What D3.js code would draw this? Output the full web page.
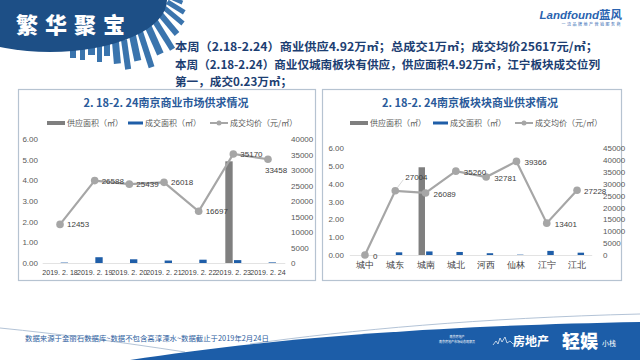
<!DOCTYPE html>
<html><head><meta charset="utf-8">
<script src="https://cdn.jsdelivr.net/npm/d3@7/dist/d3.min.js"></script>
<style>
html,body{margin:0;padding:0;background:#fff;}
svg{display:block;font-family:"Noto Sans CJK SC","Noto Sans",sans-serif;}
</style></head>
<body><svg id="c" width="640" height="360"></svg>
<script>
// ---- data ----
const dates = ["2019. 2. 18","2019. 2. 19","2019. 2. 20","2019. 2. 21","2019. 2. 22","2019. 2. 23","2019. 2. 24"];
const supplyByDay = [0,0,0,0,0,4.92,0];
const dealByDay = [0.02,0.28,0.18,0.12,0.16,0.14,0.03];
const priceByDay = [12453,26588,25439,26018,16697,35170,33458];
const districts = ["城中","城东","城南","城北","河西","仙林","江宁","江北"];
const supplyByDistrict = [0,0,4.92,0,0,0,0,0];
const dealByDistrict = [0,0.15,0.20,0.17,0.10,0.02,0.23,0.13];
const priceByDistrict = [0,27004,26089,35260,32781,39366,13401,27228];
const areaTicks = [0,1,2,3,4,5,6];
const priceTicksLeft = [0,5000,10000,15000,20000,25000,30000,35000,40000];
const priceTicksRight = [0,5000,10000,15000,20000,25000,30000,35000,40000,45000];
const seriesNames = ["供应面积（㎡）","成交面积（㎡）","成交均价（元/㎡）"];
const titleLeft = "2. 18-2. 24南京商业市场供求情况";
const titleRight = "2. 18-2. 24南京板块块商业供求情况";
const bodyLines = ["本周（2.18-2.24）商业供应4.92万㎡；总成交1万㎡；成交均价25617元/㎡；",
  "本周（2.18-2.24）商业仅城南板块有供应，供应面积4.92万㎡，江宁板块成交位列",
  "第一，成交0.23万㎡；"];

const svg = d3.select("#c");
const GRAY_BAR="#7f7f7f", BLUE="#1f5ea8", LINE="#a6a6a6", TXT="#595959";

// ---- header decoration ----
const hdr = svg.append("g");
const bld = [[70,48,6,10,0],[80,48,5,12,0],[88,46,7,9,0],[97,46,5,16,0],[104,44,6,12,0],[112,42,7,22,5],[121,40,6,30,8],
  [129,36,7,26,12],[137,32,6,38,18],[145,28,7,30,24],[152,22,6,34,32],[158,16,6,26,40],[163,10,5,24,50],[166,4,5,20,58],[167,-2,4,16,66]];
bld.forEach(b=>{
  hdr.append("rect").attr("x",0).attr("y",0).attr("width",b[2]).attr("height",b[3])
    .attr("fill","#3a74ad").attr("transform",`translate(${b[0]},${b[1]}) rotate(${-b[4]})`);
});
hdr.append("ellipse").attr("cx",50).attr("cy",0).attr("rx",117).attr("ry",52).attr("fill","#1d4f86");
hdr.append("text").attr("x",16).attr("y",33).attr("fill","#fff").attr("font-size",22).attr("font-weight",900)
  .attr("letter-spacing",7).text("繁华聚宝");
// logo
svg.append("text").attr("x",622).attr("y",19).attr("text-anchor","end").attr("font-size",11.5)
  .attr("font-weight",700).attr("font-style","italic").attr("fill","#2a63b0").attr("font-family","Liberation Sans, sans-serif")
  .text("Landfound").append("tspan").attr("font-style","normal").attr("font-family","Noto Sans CJK SC").text("蓝风");
svg.append("text").attr("x",622).attr("y",26).attr("text-anchor","end").attr("font-size",4).attr("fill","#2a63b0")
  .attr("letter-spacing",1.5).text("一流品牌地产营销服务商");

// body text
const bodyLen = [423,425,null];
bodyLines.forEach((t,i)=>{
  const tx = svg.append("text").attr("x",175).attr("y",51+i*17.5).attr("font-size",11.6).attr("font-weight",700)
    .attr("fill","#1c3e72").text(t);
  if(bodyLen[i]) tx.attr("textLength",bodyLen[i]).attr("lengthAdjust","spacingAndGlyphs");
});

// ---- panels ----
function panel(x,w){
  svg.append("rect").attr("x",x+0.5).attr("y",89.5).attr("width",w).attr("height",191)
    .attr("fill","#fff").attr("stroke","#b6c3d1").attr("stroke-width",1.2);
}
panel(18,297); panel(322,299);

function legend(g, xs, y){
  g.append("rect").attr("x",xs[0]).attr("y",y-2).attr("width",18).attr("height",4).attr("fill",GRAY_BAR);
  g.append("text").attr("x",xs[0]+20).attr("y",y+3).attr("font-size",8).attr("fill",TXT).text(seriesNames[0]);
  g.append("rect").attr("x",xs[1]).attr("y",y-1.5).attr("width",15).attr("height",3).attr("fill",BLUE);
  g.append("text").attr("x",xs[1]+17).attr("y",y+3).attr("font-size",8).attr("fill",TXT).text(seriesNames[1]);
  g.append("line").attr("x1",xs[2]).attr("x2",xs[2]+18).attr("y1",y).attr("y2",y).attr("stroke",LINE).attr("stroke-width",2);
  g.append("circle").attr("cx",xs[2]+9).attr("cy",y).attr("r",2.5).attr("fill",LINE);
  g.append("text").attr("x",xs[2]+20).attr("y",y+3).attr("font-size",8).attr("fill",TXT).text(seriesNames[2]);
}

function chart(o){
  const g = svg.append("g");
  g.append("text").attr("x",o.titleX).attr("y",107).attr("text-anchor","middle").attr("font-size",11)
    .attr("font-weight",700).attr("fill","#2a5a9a").text(o.title);
  legend(g,o.legendX,123);
  const x = d3.scaleBand().domain(o.cats).range(o.xr).padding(0);
  const sub = d3.scaleBand().domain(["s","d"]).range([-o.gw/2,o.gw/2]).paddingInner(0.15);
  const y = d3.scaleLinear().domain([0,6]).range(o.yr);
  const y2 = d3.scaleLinear().domain([0,o.pmax]).range(o.yr);
  const ax = g.append("g").attr("transform",`translate(${o.laxX},0)`)
    .call(d3.axisLeft(y).tickValues(areaTicks).tickFormat(d3.format(".2f")).tickSize(0).tickPadding(0));
  ax.select(".domain").remove();
  ax.selectAll("text").attr("font-size",8).attr("fill",TXT).attr("font-family","Liberation Sans, sans-serif");
  const ax2 = g.append("g").attr("transform",`translate(${o.raxX},0)`)
    .call(d3.axisRight(y2).tickValues(o.pticks).tickFormat(d3.format("d")).tickSize(0).tickPadding(0));
  ax2.select(".domain").remove();
  ax2.selectAll("text").attr("font-size",8).attr("fill",TXT).attr("font-family","Liberation Sans, sans-serif");
  g.append("line").attr("x1",o.xr[0]).attr("x2",o.xr[1]).attr("y1",o.yr[0]+0.5).attr("y2",o.yr[0]+0.5).attr("stroke","#e3e3e3");
  const xa = g.append("g").attr("transform",`translate(0,${o.yr[0]+3})`).call(d3.axisBottom(x).tickSize(0).tickPadding(o.xpad));
  xa.select(".domain").remove();
  xa.selectAll("text").attr("font-size",o.xfs).attr("fill","#404040");
  if(o.xfont) xa.selectAll("text").attr("font-family",o.xfont);
  const c = d=>x(d)+x.bandwidth()/2;
  g.selectAll(".sb").data(o.cats).join("rect").attr("x",(d)=>c(d)+sub("s")).attr("width",sub.bandwidth())
    .attr("y",(d,i)=>y(o.supply[i])).attr("height",(d,i)=>o.yr[0]-y(o.supply[i])).attr("fill",GRAY_BAR);
  g.selectAll(".db").data(o.cats).join("rect").attr("x",(d)=>c(d)+sub("d")).attr("width",sub.bandwidth())
    .attr("y",(d,i)=>y(o.deal[i])).attr("height",(d,i)=>o.yr[0]-y(o.deal[i])).attr("fill",BLUE);
  const pts = o.cats.map((d,i)=>[c(d),y2(o.price[i])]);
  g.append("path").attr("d",d3.line()(pts)).attr("fill","none").attr("stroke",LINE).attr("stroke-width",2.2);
  g.selectAll(".dot").data(pts).join("circle").attr("cx",d=>d[0]).attr("cy",d=>d[1]).attr("r",3.8).attr("fill",LINE);
  pts.forEach((p,i)=>{
    const pl = o.place(i);
    if(pl.leader){
      g.append("line").attr("x1",p[0]+2).attr("y1",p[1]-3).attr("x2",p[0]+pl.dx-2).attr("y2",p[1]+pl.dy+3)
        .attr("stroke","#bfbfbf").attr("stroke-width",0.6);
    }
    g.append("text").attr("x",p[0]+pl.dx).attr("y",p[1]+pl.dy+3).attr("text-anchor",pl.anchor||"start")
      .attr("font-size",8).attr("fill","#404040").attr("font-family","Liberation Sans, sans-serif").text(o.price[i]);
  });
}

chart({cats:dates,supply:supplyByDay,deal:dealByDay,price:priceByDay,xr:[42.7,285.3],yr:[263,139],pmax:40000,
  pticks:priceTicksLeft,laxX:38,raxX:291,title:titleLeft,titleX:166,legendX:[47,128,210],gw:16,xfs:7.1,xpad:4,
  xfont:"Liberation Sans, sans-serif",
  place:i=> i===6?{dx:-3,dy:11}:{dx:7,dy:0}});
chart({cats:districts,supply:supplyByDistrict,deal:dealByDistrict,price:priceByDistrict,xr:[349.8,592.2],yr:[255,148],pmax:45000,
  pticks:priceTicksRight,laxX:344,raxX:603,title:titleRight,titleX:470,legendX:[350,433,515],gw:14,xfs:9,xpad:4,
  place:i=> i===1?{dx:10,dy:-14,leader:true}:(i===7?{dx:7,dy:1}:{dx:8,dy:1})});

// ---- footer ----
svg.append("path").attr("d","M0,328 C60,334 120,342 185,352").attr("fill","none").attr("stroke","#9fb4cc").attr("stroke-width",0.8);
svg.append("path").attr("d","M250,344 C350,330 480,318 640,314").attr("fill","none").attr("stroke","#9fb4cc").attr("stroke-width",0.8);
svg.append("path").attr("d","M130,360 C260,340 420,326 640,322 L640,360 Z").attr("fill","#1c5da8");
svg.append("text").attr("x",25).attr("y",341).attr("font-size",7.4).attr("fill","#2e5e9e")
  .text("数据来源于金丽石数据库~数据不包含高淳溧水~数据截止于2019年2月24日");
svg.append("text").attr("x",457).attr("y",338).attr("font-size",3).attr("fill","#fff").attr("text-anchor","middle").text("南京房地产");
svg.append("text").attr("x",457).attr("y",343).attr("font-size",3).attr("fill","#fff").attr("text-anchor","middle").text("南京房地产市场动态观察员");
svg.append("path").attr("d","M493,345 l3,-4 l2,3 l2,-6 l2,4 l3,-5 l2,6 l3,-2 l3,3 l4,-1 l3,1")
  .attr("fill","none").attr("stroke","#fff").attr("stroke-width",0.7);
svg.append("text").attr("x",513).attr("y",346).attr("font-size",12).attr("font-weight",700).attr("fill","#fff").text("房地产");
svg.append("text").attr("x",562).attr("y",348).attr("font-size",18).attr("font-weight",900).attr("fill","#fff").text("轻娱");
svg.append("text").attr("x",602).attr("y",346).attr("font-size",7).attr("fill","#fff").text("小栈");
</script></body></html>
